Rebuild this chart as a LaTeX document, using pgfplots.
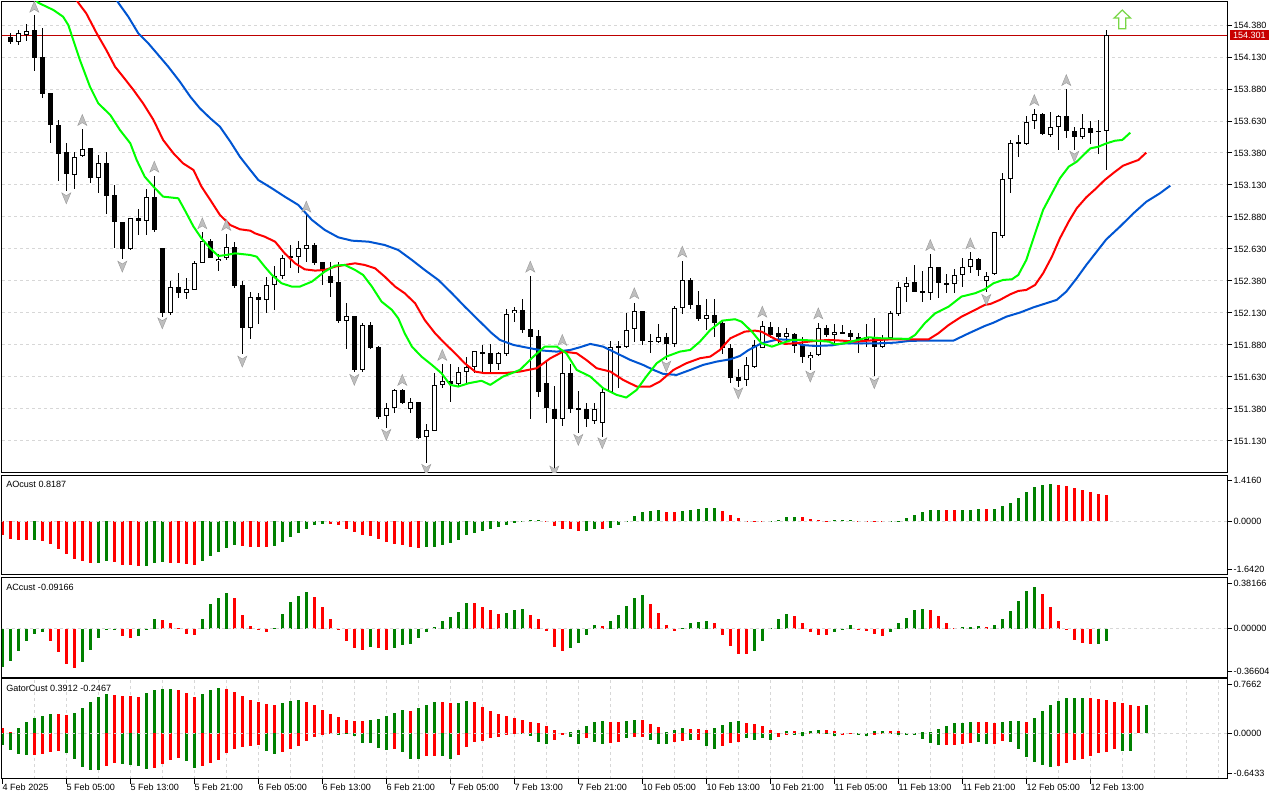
\documentclass[border=0pt]{standalone}
\usepackage{fontspec}
\setmainfont{Liberation Sans}
\usepackage{pgfplots}
\usepackage{pgfplotstable}
\pgfplotsset{compat=1.18}

\definecolor{mtgreen}{RGB}{0,128,0}
\definecolor{mtred}{RGB}{255,0,0}
\definecolor{lips}{RGB}{0,255,0}
\definecolor{teeth}{RGB}{255,0,0}
\definecolor{jaw}{RGB}{0,85,210}
\definecolor{gridc}{RGB}{215,215,215}
\definecolor{pline}{RGB}{190,0,0}
\definecolor{plabel}{RGB}{200,0,0}
\definecolor{arrowgreen}{RGB}{120,215,70}

\newcommand\tf{\fontsize{6.8pt}{8pt}\selectfont}

\pgfdeclareplotmark{fup}{%
  \pgfpathmoveto{\pgfqpoint{0pt}{4.1pt}}%
  \pgfpathlineto{\pgfqpoint{3.4pt}{-4.1pt}}%
  \pgfpathlineto{\pgfqpoint{0pt}{-2.0pt}}%
  \pgfpathlineto{\pgfqpoint{-3.4pt}{-4.1pt}}%
  \pgfpathclose
  \pgfusepathqfillstroke}
\pgfdeclareplotmark{fdown}{%
  \pgfpathmoveto{\pgfqpoint{0pt}{-4.1pt}}%
  \pgfpathlineto{\pgfqpoint{3.4pt}{4.1pt}}%
  \pgfpathlineto{\pgfqpoint{0pt}{2.0pt}}%
  \pgfpathlineto{\pgfqpoint{-3.4pt}{4.1pt}}%
  \pgfpathclose
  \pgfusepathqfillstroke}
\pgfdeclareplotmark{bigup}{%
  \pgfpathmoveto{\pgfqpoint{0pt}{7pt}}%
  \pgfpathlineto{\pgfqpoint{6.2pt}{1pt}}%
  \pgfpathlineto{\pgfqpoint{2.6pt}{1pt}}%
  \pgfpathlineto{\pgfqpoint{2.6pt}{-7pt}}%
  \pgfpathlineto{\pgfqpoint{-2.6pt}{-7pt}}%
  \pgfpathlineto{\pgfqpoint{-2.6pt}{1pt}}%
  \pgfpathlineto{\pgfqpoint{-6.2pt}{1pt}}%
  \pgfpathclose
  \pgfusepathqfillstroke}

\pgfplotsset{
  mtbase/.style={
    scale only axis, width=918.75pt, anchor=south west,
    xmin=-1.0375, xmax=152.09,
    axis line style={line width=0.75pt, black},
    minor xtick={3,7,...,151}, xminorgrids=true,
    minor tick length=0pt,
    major grid style={gridc, line width=0.75pt, dash pattern=on 2.25pt off 2.25pt},
    minor grid style={gridc, line width=0.75pt, dash pattern=on 2.25pt off 2.25pt},
    ytick pos=right, yticklabel pos=right, xtick pos=bottom,
    tick align=outside, major tick length=3.75pt,
    tick style={black, line width=0.75pt},
    ticklabel style={font=\tf},
    yticklabel style={anchor=west, inner sep=0pt, xshift=1pt},
    scaled y ticks=false,
    clip mode=individual,
  },
  hbar/.style={ycomb, line width=2.25pt},
  ebar/.style={draw=none, mark=none, forget plot,
    error bars/.cd, y dir=both, y explicit, error mark=none},
}

\begin{document}

\pgfplotstableread{
k O H L C
0 154.286 154.315 154.229 154.250
1 154.252 154.346 154.229 154.323
2 154.307 154.388 154.258 154.338
3 154.346 154.458 154.023 154.125
4 154.130 154.354 153.812 153.844
5 153.849 153.849 153.461 153.601
6 153.596 153.638 153.164 153.375
7 153.385 153.456 153.086 153.213
8 153.213 153.385 153.101 153.354
9 153.354 153.568 153.346 153.416
10 153.416 153.416 153.148 153.182
11 153.182 153.364 153.070 153.299
12 153.299 153.385 152.906 153.047
13 153.049 153.127 152.638 152.838
14 152.841 152.841 152.549 152.630
15 152.630 152.877 152.622 152.870
16 152.870 152.940 152.737 152.851
17 152.854 153.104 152.739 153.041
18 153.041 153.200 152.765 152.778
19 152.635 152.635 152.101 152.130
20 152.127 152.380 152.114 152.331
21 152.331 152.440 152.250 152.284
22 152.284 152.403 152.237 152.315
23 152.307 152.539 152.307 152.518
24 152.518 152.760 152.518 152.693
25 152.693 152.708 152.562 152.562
26 152.534 152.591 152.461 152.552
27 152.557 152.747 152.544 152.643
28 152.643 152.682 152.323 152.344
29 152.346 152.380 151.807 152.015
30 152.015 152.291 151.924 152.252
31 152.255 152.284 152.044 152.229
32 152.229 152.409 152.127 152.346
33 152.346 152.500 152.153 152.416
34 152.416 152.583 152.393 152.557
35 152.570 152.666 152.479 152.575
36 152.570 152.693 152.445 152.635
37 152.633 152.909 152.531 152.659
38 152.659 152.674 152.505 152.521
39 152.526 152.531 152.349 152.458
40 152.424 152.526 152.258 152.367
41 152.372 152.526 152.049 152.070
42 152.070 152.211 151.851 152.104
43 152.104 152.104 151.672 151.682
44 151.682 152.049 151.672 152.036
45 152.036 152.057 151.849 151.859
46 151.864 151.877 151.302 151.318
47 151.323 151.424 151.229 151.385
48 151.385 151.534 151.346 151.528
49 151.528 151.534 151.416 151.430
50 151.377 151.463 151.346 151.432
51 151.432 151.432 151.143 151.156
52 151.159 151.260 150.956 151.213
53 151.211 151.659 151.206 151.565
54 151.565 151.729 151.541 151.599
55 151.599 151.729 151.437 151.575
56 151.575 151.711 151.560 151.669
57 151.669 151.784 151.581 151.711
58 151.711 151.833 151.659 151.833
59 151.823 151.880 151.659 151.815
60 151.815 151.885 151.659 151.734
61 151.734 151.828 151.685 151.815
62 151.812 152.161 151.794 152.127
63 152.127 152.174 152.060 152.151
64 152.151 152.239 151.976 151.997
65 152.002 152.419 151.305 151.945
66 151.950 151.997 151.476 151.515
67 151.581 151.755 151.268 151.385
68 151.380 151.560 150.916 151.299
69 151.299 151.820 151.247 151.659
70 151.659 151.729 151.351 151.377
71 151.383 151.521 151.195 151.377
72 151.377 151.424 151.242 151.299
73 151.289 151.424 151.263 151.377
74 151.273 151.555 151.164 151.515
75 151.513 151.914 151.508 151.867
76 151.864 151.914 151.547 151.870
77 151.867 152.127 151.859 152.002
78 152.002 152.211 151.906 152.143
79 152.143 152.143 151.877 151.914
80 151.916 151.966 151.815 151.901
81 151.901 152.044 151.893 151.940
82 151.940 151.971 151.763 151.885
83 151.885 152.185 151.867 152.166
84 152.166 152.536 152.120 152.385
85 152.385 152.401 152.159 152.190
86 152.193 152.302 152.068 152.081
87 152.081 152.239 151.997 152.114
88 152.114 152.239 151.945 152.055
89 152.055 152.075 151.807 151.859
90 151.859 151.885 151.581 151.625
91 151.630 151.690 151.555 151.601
92 151.604 151.784 151.560 151.721
93 151.711 151.919 151.703 151.880
94 151.859 152.068 151.854 152.028
95 152.023 152.062 151.932 151.958
96 151.976 152.023 151.901 151.945
97 151.945 152.010 151.901 151.976
98 151.966 151.971 151.820 151.875
99 151.880 151.945 151.742 151.784
100 151.776 151.828 151.685 151.799
101 151.799 152.055 151.794 152.010
102 152.010 152.036 151.945 151.958
103 151.963 152.044 151.893 151.982
104 151.979 152.036 151.971 151.974
105 151.979 151.997 151.924 151.945
106 151.945 151.976 151.820 151.919
107 151.924 152.041 151.867 151.945
108 151.945 152.088 151.638 151.862
109 151.862 151.958 151.854 151.932
110 151.932 152.146 151.927 152.127
111 152.120 152.370 152.107 152.331
112 152.336 152.409 152.213 152.367
113 152.370 152.505 152.297 152.297
114 152.302 152.461 152.219 152.284
115 152.284 152.591 152.232 152.487
116 152.487 152.492 152.245 152.362
117 152.364 152.432 152.284 152.359
118 152.359 152.474 152.284 152.424
119 152.430 152.562 152.331 152.487
120 152.492 152.604 152.445 152.552
121 152.552 152.562 152.419 152.471
122 152.380 152.453 152.297 152.422
123 152.432 152.760 152.424 152.760
124 152.732 153.221 152.719 153.180
125 153.180 153.482 153.065 153.463
126 153.458 153.521 153.351 153.463
127 153.453 153.672 153.443 153.627
128 153.627 153.724 153.570 153.682
129 153.682 153.690 153.518 153.531
130 153.523 153.698 153.502 153.583
131 153.583 153.677 153.403 153.672
132 153.672 153.883 153.495 153.552
133 153.552 153.588 153.403 153.508
134 153.508 153.690 153.487 153.575
135 153.575 153.633 153.450 153.539
136 153.554 153.638 153.375 153.549
137 153.549 154.341 153.247 154.302
}\candles

\pgfplotstableread{
k p
3 154.523
9 153.638
18 153.273
24 152.831
27 152.818
37 152.961
49 151.607
54 151.802
65 152.492
69 151.919
78 152.284
84 152.609
94 152.140
101 152.127
115 152.661
120 152.674
128 153.794
132 153.950
}\fracup

\pgfplotstableread{
k p
7 153.026
14 152.492
19 152.049
29 151.750
43 151.607
47 151.177
52 150.904
68 150.891
71 151.138
74 151.112
82 151.711
91 151.502
100 151.633
108 151.581
122 152.232
133 153.351
}\fracdown

\pgfplotstableread{
k v c
-1 -0.431 0
0 -0.533 0
1 -0.564 0
2 -0.566 0
3 -0.560 1
4 -0.605 0
5 -0.687 0
6 -0.841 0
7 -0.995 0
8 -1.149 0
9 -1.231 0
10 -1.272 0
11 -1.270 1
12 -1.231 1
13 -1.240 0
14 -1.333 0
15 -1.354 0
16 -1.374 0
17 -1.370 1
18 -1.272 1
19 -1.251 1
20 -1.272 0
21 -1.282 0
22 -1.303 0
23 -1.333 0
24 -1.210 1
25 -1.067 1
26 -0.944 1
27 -0.810 1
28 -0.718 1
29 -0.759 0
30 -0.779 0
31 -0.785 0
32 -0.790 0
33 -0.749 1
34 -0.636 1
35 -0.472 1
36 -0.349 1
37 -0.226 1
38 -0.103 1
39 -0.070 1
40 -0.080 0
41 -0.120 0
42 -0.226 0
43 -0.328 0
44 -0.431 0
45 -0.440 0
46 -0.533 0
47 -0.636 0
48 -0.697 0
49 -0.718 0
50 -0.779 0
51 -0.821 0
52 -0.790 1
53 -0.785 1
54 -0.718 1
55 -0.667 1
56 -0.564 1
57 -0.431 1
58 -0.359 1
59 -0.297 1
60 -0.226 1
61 -0.185 1
62 -0.103 1
63 -0.041 1
64 0.021 1
65 0.041 1
66 0.051 1
67 -0.021 0
68 -0.144 0
69 -0.226 0
70 -0.246 0
71 -0.297 0
72 -0.287 1
73 -0.226 1
74 -0.230 0
75 -0.195 1
76 -0.103 1
77 -0.010 1
78 0.164 1
79 0.287 1
80 0.318 1
81 0.349 1
82 0.287 0
83 0.285 0
84 0.318 1
85 0.349 1
86 0.379 1
87 0.410 1
88 0.412 1
89 0.318 0
90 0.195 0
91 0.103 0
92 -0.010 0
93 -0.021 0
94 -0.025 0
95 -0.005 1
96 0.041 1
97 0.123 1
98 0.125 1
99 0.120 0
100 0.062 0
101 0.031 0
102 0.015 0
103 0.031 1
104 0.051 1
105 0.052 1
106 0.021 0
107 0.018 0
108 -0.010 0
109 -0.012 0
110 -0.008 1
111 0.021 1
112 0.092 1
113 0.195 1
114 0.277 1
115 0.338 1
116 0.340 1
117 0.336 0
118 0.333 0
119 0.338 1
120 0.340 1
121 0.369 1
122 0.366 0
123 0.369 1
124 0.472 1
125 0.554 1
126 0.718 1
127 0.892 1
128 1.046 1
129 1.128 1
130 1.149 1
131 1.108 0
132 1.097 0
133 1.026 0
134 0.954 0
135 0.892 0
136 0.850 0
137 0.8187 0
}\aotab

\pgfplotstableread{
k v c
-1 -0.288 1
0 -0.248 1
1 -0.173 1
2 -0.095 1
3 -0.038 1
4 -0.028 1
5 -0.095 0
6 -0.180 0
7 -0.270 0
8 -0.298 0
9 -0.253 1
10 -0.163 1
11 -0.073 1
12 -0.005 1
13 -0.003 1
14 -0.058 0
15 -0.073 0
16 -0.058 1
17 -0.010 1
18 0.068 1
19 0.066 0
20 0.038 0
21 0.005 0
22 -0.038 0
23 -0.050 0
24 0.068 1
25 0.188 1
26 0.233 1
27 0.270 1
28 0.233 0
29 0.103 0
30 0.020 0
31 -0.010 0
32 -0.028 0
33 0.002 1
34 0.113 1
35 0.203 1
36 0.248 1
37 0.278 1
38 0.240 0
39 0.165 0
40 0.075 0
41 -0.005 0
42 -0.095 0
43 -0.148 0
44 -0.163 0
45 -0.140 1
46 -0.148 0
47 -0.163 0
48 -0.148 1
49 -0.125 1
50 -0.118 1
51 -0.073 1
52 -0.028 1
53 0.008 1
54 0.060 1
55 0.090 1
56 0.128 1
57 0.195 1
58 0.193 0
59 0.165 0
60 0.143 0
61 0.113 0
62 0.120 1
63 0.143 1
64 0.144 1
65 0.105 0
66 0.068 0
67 -0.020 0
68 -0.143 0
69 -0.173 0
70 -0.148 1
71 -0.110 1
72 -0.050 1
73 0.023 1
74 0.020 0
75 0.053 1
76 0.105 1
77 0.173 1
78 0.233 1
79 0.255 1
80 0.188 0
81 0.120 0
82 0.023 0
83 -0.020 0
84 0.005 1
85 0.045 1
86 0.046 1
87 0.053 1
88 0.038 0
89 -0.050 0
90 -0.135 0
91 -0.195 0
92 -0.196 0
93 -0.173 1
94 -0.095 1
95 0.005 1
96 0.075 1
97 0.113 1
98 0.098 0
99 0.038 0
100 -0.028 0
101 -0.050 0
102 -0.052 0
103 -0.025 1
104 -0.005 1
105 0.023 1
106 -0.005 0
107 -0.020 0
108 -0.043 0
109 -0.058 0
110 -0.025 1
111 0.038 1
112 0.083 1
113 0.143 1
114 0.150 1
115 0.143 0
116 0.098 0
117 0.045 0
118 0.005 0
119 0.008 1
120 0.015 1
121 0.016 1
122 0.008 0
123 0.023 1
124 0.075 1
125 0.135 1
126 0.210 1
127 0.285 1
128 0.315 1
129 0.263 0
130 0.165 0
131 0.053 0
132 -0.010 0
133 -0.088 0
134 -0.110 0
135 -0.118 0
136 -0.117 1
137 -0.09166 1
}\actab

\pgfplotstableread{
k u uc l lc
-1 0.075 0 -0.160 1
0 0.019 0 -0.231 1
1 0.075 1 -0.288 1
2 0.151 1 -0.302 1
3 0.217 1 -0.302 0
4 0.245 1 -0.288 0
5 0.274 1 -0.259 0
6 0.272 0 -0.245 0
7 0.259 0 -0.274 1
8 0.288 1 -0.358 1
9 0.358 1 -0.472 1
10 0.443 1 -0.514 1
11 0.509 1 -0.516 1
12 0.557 1 -0.458 0
13 0.542 0 -0.415 0
14 0.528 0 -0.429 1
15 0.525 0 -0.443 1
16 0.518 0 -0.458 1
17 0.571 1 -0.500 1
18 0.613 1 -0.486 0
19 0.627 1 -0.429 0
20 0.630 1 -0.373 0
21 0.608 0 -0.344 0
22 0.571 0 -0.387 1
23 0.514 0 -0.486 1
24 0.557 1 -0.458 0
25 0.613 1 -0.415 0
26 0.642 1 -0.373 0
27 0.627 0 -0.274 0
28 0.585 0 -0.217 0
29 0.528 0 -0.189 0
30 0.472 0 -0.175 0
31 0.443 0 -0.160 0
32 0.415 0 -0.245 1
33 0.401 0 -0.288 1
34 0.429 1 -0.259 0
35 0.458 1 -0.217 0
36 0.472 1 -0.175 0
37 0.443 0 -0.104 0
38 0.401 0 -0.047 0
39 0.330 0 -0.019 0
40 0.274 0 -0.017 0
41 0.231 0 -0.019 1
42 0.189 0 -0.009 1
43 0.175 0 -0.042 1
44 0.172 0 -0.132 1
45 0.189 1 -0.134 1
46 0.203 1 -0.203 1
47 0.245 1 -0.231 1
48 0.288 1 -0.217 0
49 0.330 1 -0.259 1
50 0.316 0 -0.358 1
51 0.358 1 -0.360 1
52 0.396 1 -0.325 0
53 0.443 1 -0.323 0
54 0.441 0 -0.325 1
55 0.429 0 -0.358 1
56 0.431 1 -0.302 0
57 0.458 1 -0.189 0
58 0.443 0 -0.118 0
59 0.373 0 -0.116 0
60 0.316 0 -0.075 0
61 0.274 0 -0.047 0
62 0.245 0 -0.019 0
63 0.217 0 -0.009 0
64 0.189 0 -0.010 1
65 0.160 0 -0.042 1
66 0.146 0 -0.118 1
67 0.104 0 -0.146 1
68 0.047 0 -0.090 0
69 0.009 0 -0.019 0
70 0.014 1 -0.052 1
71 0.042 1 -0.146 1
72 0.099 1 -0.075 0
73 0.160 1 -0.118 1
74 0.175 1 -0.146 1
75 0.160 0 -0.132 0
76 0.158 0 -0.118 0
77 0.175 1 -0.075 1
78 0.189 1 -0.061 0
79 0.187 0 -0.047 0
80 0.132 0 -0.090 1
81 0.085 0 -0.146 1
82 0.014 1 -0.148 1
83 0.047 1 -0.118 0
84 0.075 1 -0.104 0
85 0.061 0 -0.090 1
86 0.059 0 -0.090 0
87 0.047 0 -0.175 1
88 0.075 1 -0.217 1
89 0.118 1 -0.175 0
90 0.160 1 -0.132 0
91 0.175 1 -0.118 0
92 0.146 0 -0.075 1
93 0.132 0 -0.090 1
94 0.104 0 -0.075 1
95 0.047 0 -0.090 1
96 0.004 0 -0.061 0
97 0.028 1 -0.019 0
98 0.028 0 -0.019 1
99 0.019 1 -0.033 1
100 0.033 1 -0.014 0
101 0.047 1 -0.009 0
102 0.047 0 -0.014 1
103 0.028 0 -0.033 1
104 0.009 0 -0.024 0
105 0.003 1 -0.009 0
106 0.003 1 -0.019 1
107 0.003 1 -0.033 1
108 0.024 1 -0.024 0
109 0.024 1 -0.014 0
110 0.028 0 -0.014 1
111 0.028 0 -0.024 1
112 0.009 0 -0.024 1
113 0.009 1 -0.024 1
114 0.014 1 -0.080 1
115 0.019 1 -0.132 1
116 0.057 1 -0.165 1
117 0.099 1 -0.165 0
118 0.142 1 -0.165 0
119 0.142 1 -0.151 0
120 0.156 1 -0.132 0
121 0.156 0 -0.123 1
122 0.156 0 -0.151 1
123 0.142 0 -0.151 0
124 0.156 1 -0.108 0
125 0.170 1 -0.123 1
126 0.170 1 -0.222 1
127 0.156 0 -0.335 1
128 0.212 1 -0.406 1
129 0.311 1 -0.448 1
130 0.396 1 -0.476 1
131 0.453 1 -0.462 0
132 0.495 1 -0.420 0
133 0.495 1 -0.377 0
134 0.495 1 -0.363 0
135 0.495 0 -0.321 0
136 0.481 0 -0.278 0
137 0.467 0 -0.264 0
138 0.439 0 -0.222 0
139 0.425 0 -0.250 1
140 0.396 0 -0.2467 1
141 0.380 0 nan 0
142 0.3912 1 nan 0
}\gatortab

\begin{tikzpicture}
\fill[white] (0,0) rectangle (960pt,600pt);
\path[use as bounding box] (0,0) rectangle (960pt,600pt);

% ---------------- main price panel ----------------
\begin{axis}[mtbase, at={(1.5pt,245.5pt)}, height=353pt,
  ymin=150.882, ymax=154.560,
  ytick={151.13,151.38,151.63,151.88,152.13,152.38,152.63,152.88,153.13,153.38,153.63,153.88,154.13,154.38},
  yticklabels={151.130,151.380,151.630,151.880,152.130,152.380,152.630,152.880,153.130,153.380,153.630,153.880,154.130,154.380},
  ymajorgrids=true, xtick=\empty, clip marker paths=true]

\addplot[pline, line width=0.75pt] coordinates {(-2,154.301) (153,154.301)};

% wicks
\addplot[ebar, error bar style={draw=black, line width=0.75pt}]
  table[x=k, y expr={(\thisrow{H}+\thisrow{L})/2}, y error expr={(\thisrow{H}-\thisrow{L})/2}] {\candles};
% bodies (outline / black)
\addplot[ebar, error bar style={draw=black, line width=3.75pt}]
  table[x=k, y expr={(\thisrow{O}+\thisrow{C})/2}, y error expr={max(abs(\thisrow{O}-\thisrow{C})/2,0.0039)}] {\candles};
% white fill for bullish candles
\addplot[restrict expr to domain={\thisrow{C}-\thisrow{O}}{0.0001:100}, ebar,
  error bar style={draw=white, line width=2.25pt}]
  table[x=k, y expr={(\thisrow{O}+\thisrow{C})/2}, y error expr={max(abs(\thisrow{O}-\thisrow{C})/2-0.0078,0)}] {\candles};

% Alligator: jaw
\addplot[jaw, line width=1.5pt, line join=round] coordinates {
(12.5,154.66) (13.5,154.554) (14.75,154.445) (16.0,154.315) (17.25,154.237) (18.5,154.146) (19.75,154.054) (21.2,153.937) (22.5,153.820) (23.7,153.729) (25.0,153.651) (26.2,153.586) (27.5,153.469) (28.7,153.351) (30.0,153.247)
(31.0,153.169) (32.7,153.104) (34.3,153.039) (36.0,152.974) (37.7,152.857) (39.3,152.779) (41.0,152.721) (42.7,152.695) (44.8,152.687) (46.8,152.661) (48.5,152.622) (50.2,152.544) (51.8,152.466) (53.5,152.388) (55.2,152.284) (56.8,152.180) (58.5,152.075) (60.2,151.971)
(61.2,151.919) (62.9,151.880) (65.0,151.854) (66.6,151.836) (68.3,151.828) (70.0,151.841) (71.2,151.862) (72.5,151.888) (74.1,151.867) (75.8,151.815) (77.5,151.763) (79.1,151.724) (80.4,151.685) (81.6,151.654) (83.3,151.646) (85.0,151.685) (86.6,151.724) (88.3,151.750) (90.0,151.768) (91.2,151.794)
(92.3,151.841) (93.9,151.893) (96.0,151.924) (97.7,151.919) (98.9,151.880) (100.6,151.872) (102.7,151.877) (104.3,151.893) (106.4,151.893) (108.5,151.893) (110.6,151.898) (112.3,151.911) (113.9,151.914) (115.6,151.914) (117.9,151.914) (119.8,151.971) (121.8,152.028)
(122.9,152.054) (124.5,152.101) (126.2,152.133) (127.9,152.174) (129.5,152.206) (130.8,152.232) (132.0,152.297) (133.3,152.401) (134.5,152.505) (135.8,152.609) (137.0,152.705) (138.7,152.804) (140.4,152.909) (142.0,152.999) (143.7,153.065) (145.0,153.125)};
% teeth
\addplot[teeth, line width=1.5pt, line join=round] coordinates {
(7.5,154.65) (8.5,154.554) (9.5,154.471) (10.8,154.315) (12.0,154.185) (13.1,154.054) (14.1,153.976) (15.4,153.872) (16.6,153.768) (17.9,153.638) (19.1,153.482) (20.4,153.377) (21.6,153.299) (22.9,153.247) (23.9,153.117) (25.0,153.013) (26.2,152.896) (27.5,152.817) (28.7,152.784) (30.0,152.773)
(30.6,152.752) (31.8,152.726) (33.1,152.687) (34.3,152.596) (35.6,152.518) (36.8,152.471) (38.1,152.461) (39.3,152.466) (40.6,152.492) (41.8,152.505) (43.1,152.518) (44.3,152.505) (45.6,152.479) (46.8,152.414) (48.1,152.336) (49.3,152.284) (50.6,152.206) (51.8,152.075) (53.1,151.971) (54.3,151.893) (55.6,151.815) (56.8,151.737) (58.1,151.672) (59.3,151.659) (60.6,151.659)
(61.6,151.659) (63.7,151.672) (65.8,151.698) (67.5,151.776) (69.1,151.828) (70.8,151.815) (72.0,151.763) (73.3,151.698) (75.0,151.672) (76.6,151.607) (78.3,151.555) (80.0,151.555) (81.2,151.594) (82.9,151.685) (84.5,151.737) (86.2,151.776) (87.5,151.789) (88.7,151.841) (90.0,151.932)
(91.8,151.984) (93.1,151.992) (93.9,151.984) (95.2,151.940) (96.8,151.888) (98.1,151.893) (99.8,151.906) (101.0,151.914) (102.3,151.919) (103.9,151.914) (105.6,151.906) (107.3,151.914) (108.5,151.919) (110.2,151.924) (111.8,151.924) (113.1,151.924) (114.8,151.924) (116.0,151.971) (117.3,152.036) (118.9,152.101) (120.6,152.154) (121.8,152.193)
(122.5,152.200) (123.7,152.232) (125.0,152.276) (126.0,152.302) (127.0,152.310) (128.1,152.349) (129.1,152.440) (130.2,152.570) (131.2,152.713) (132.3,152.844) (133.3,152.948) (134.5,153.034) (135.6,153.096) (136.8,153.169) (138.1,153.234) (139.1,153.281) (140.2,153.307) (141.0,153.325) (142.0,153.383)};
% lips
\addplot[lips, line width=1.5pt, line join=round] coordinates {
(2.5,154.62) (3.5,154.554) (5.4,154.497) (6.6,154.445) (7.25,154.380) (8.7,154.107) (9.96,153.898) (11.0,153.768) (12.5,153.677) (13.7,153.560) (15.0,153.456) (15.8,153.325) (16.8,153.195) (17.9,153.117) (19.1,153.039) (21.0,153.026) (21.8,152.935) (22.9,152.805) (23.9,152.713) (25.0,152.635) (26.0,152.575) (27.0,152.583) (28.1,152.596) (30.0,152.583)
(30.8,152.570) (31.8,152.492) (32.7,152.427) (33.9,152.362) (35.2,152.336) (36.2,152.336) (37.7,152.375) (39.3,152.453) (40.6,152.500) (41.8,152.505) (43.1,152.466) (44.1,152.427) (45.2,152.336) (46.4,152.219) (47.7,152.154) (48.5,152.088) (49.3,151.971) (50.2,151.867) (51.4,151.789) (52.7,151.724) (53.9,151.659) (55.0,151.568) (56.0,151.555) (57.3,151.581) (58.9,151.600) (60.0,151.568)
(61.6,151.633) (63.7,151.685) (65.4,151.789) (66.8,151.867) (68.3,151.867) (69.5,151.815) (70.8,151.685) (72.5,151.633) (74.1,151.542) (75.8,151.490) (77.0,151.469) (78.3,151.529) (79.5,151.633) (80.8,151.737) (82.0,151.789) (83.7,151.828) (85.0,151.841) (86.2,151.906) (87.5,151.997) (89.0,152.070) (90.6,152.081)
(91.4,152.062) (92.7,151.984) (93.9,151.893) (95.2,151.867) (96.4,151.893) (97.7,151.919) (98.9,151.919) (100.6,151.914) (102.3,151.906) (103.1,151.885) (104.3,151.893) (105.6,151.914) (107.3,151.940) (108.9,151.932) (110.6,151.930) (112.3,151.927) (113.1,151.958) (114.3,152.049) (115.6,152.127) (117.3,152.180) (118.9,152.258) (120.6,152.284) (121.8,152.315)
(122.9,152.362) (124.1,152.388) (125.2,152.393) (126.0,152.427) (127.0,152.544) (128.1,152.752) (129.1,152.935) (130.2,153.065) (131.2,153.182) (132.3,153.273) (133.3,153.312) (135.0,153.416) (136.0,153.429) (137.0,153.455) (138.1,153.476) (139.0,153.482) (140.0,153.539)};

% fractals
\addplot[only marks, mark=fup, mark options={fill=gray!50, draw=gray!80, line width=0.3pt}] table[x=k,y=p] {\fracup};
\addplot[only marks, mark=fdown, mark options={fill=gray!50, draw=gray!80, line width=0.3pt}] table[x=k,y=p] {\fracdown};
\addplot[only marks, mark=bigup, mark options={fill=white, draw=arrowgreen, line width=0.9pt}] coordinates {(139,154.424)};

\node[fill=plabel, text=white, font=\tf, inner xsep=2.6pt, inner ysep=1.2pt, anchor=west, xshift=1.7pt] at (axis cs:152.09,154.301) {154.301};
\end{axis}

% ---------------- AO panel ----------------
\begin{axis}[mtbase, at={(1.5pt,168.98pt)}, height=74.55pt,
  ymin=-1.642, ymax=1.416, xtick=\empty,
  ytick={-1.488,0,1.262}, yticklabels={-1.6420,0.0000,1.4160}]
\addplot[hbar, mtgreen, restrict expr to domain={\thisrow{c}}{0.5:1.5}] table[x=k,y=v] {\aotab};
\addplot[hbar, mtred, restrict expr to domain={\thisrow{c}}{-0.5:0.5}] table[x=k,y=v] {\aotab};
\addplot[gridc, line width=0.75pt, dash pattern=on 2.25pt off 2.25pt] coordinates {(-2,0) (153,0)};
\node[anchor=west, font=\tf, inner sep=0pt, xshift=3pt, yshift=-6.75pt] at (rel axis cs:0,1) {AOcust 0.8187};
\end{axis}

% ---------------- AC panel ----------------
\begin{axis}[mtbase, at={(1.5pt,92.25pt)}, height=74.3pt,
  ymin=-0.36604, ymax=0.38166, xtick=\empty,
  ytick={-0.3255,0,0.3412}, yticklabels={-0.36604,0.00000,0.38166}]
\addplot[hbar, mtgreen, restrict expr to domain={\thisrow{c}}{0.5:1.5}] table[x=k,y=v] {\actab};
\addplot[hbar, mtred, restrict expr to domain={\thisrow{c}}{-0.5:0.5}] table[x=k,y=v] {\actab};
\addplot[gridc, line width=0.75pt, dash pattern=on 2.25pt off 2.25pt] coordinates {(-2,0) (153,0)};
\node[anchor=west, font=\tf, inner sep=0pt, xshift=3pt, yshift=-6.75pt] at (rel axis cs:0,1) {ACcust -0.09166};
\end{axis}

% ---------------- Gator panel ----------------
\begin{axis}[mtbase, at={(1.5pt,15.98pt)}, height=74.8pt,
  ymin=-0.6433, ymax=0.7662,
  ytick={-0.5698,0,0.6927}, yticklabels={-0.6433,0.0000,0.7662},
  xtick={-1,7,...,135},
  xticklabels={4 Feb 2025,5 Feb 05:00,5 Feb 13:00,5 Feb 21:00,6 Feb 05:00,6 Feb 13:00,6 Feb 21:00,7 Feb 05:00,7 Feb 13:00,7 Feb 21:00,10 Feb 05:00,10 Feb 13:00,10 Feb 21:00,11 Feb 05:00,11 Feb 13:00,11 Feb 21:00,12 Feb 05:00,12 Feb 13:00},
  xticklabel style={anchor=north west, inner sep=0pt}]
\addplot[hbar, mtgreen, restrict expr to domain={\thisrow{uc}}{0.5:1.5}] table[x=k,y=u] {\gatortab};
\addplot[hbar, mtred, restrict expr to domain={\thisrow{uc}}{-0.5:0.5}] table[x=k,y=u] {\gatortab};
\addplot[hbar, mtgreen, restrict expr to domain={\thisrow{lc}}{0.5:1.5}] table[x=k,y=l] {\gatortab};
\addplot[hbar, mtred, restrict expr to domain={\thisrow{lc}}{-0.5:0.5}] table[x=k,y=l] {\gatortab};
\addplot[gridc, line width=0.75pt, dash pattern=on 2.25pt off 2.25pt] coordinates {(-2,0) (153,0)};
\node[anchor=west, font=\tf, inner sep=0pt, xshift=3pt, yshift=-7.2pt] at (rel axis cs:0,1) {GatorCust 0.3912 -0.2467};
\end{axis}
\end{tikzpicture}
\end{document}
